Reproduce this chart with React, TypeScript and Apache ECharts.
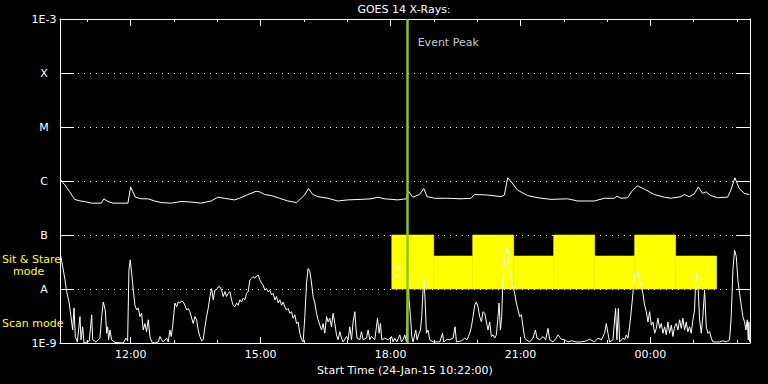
import React, { useEffect, useRef } from 'react';
import * as echarts from 'echarts';

// Time axis: minutes elapsed since the start time 24-Jan-15 10:22:00
const START_CLOCK_MIN = 10 * 60 + 22;
const X_MAX = 956;
const majorTickMinutes = [98, 278, 458, 638, 818]; // 12:00 15:00 18:00 21:00 00:00
const hourTickMinutes = [38, 98, 158, 218, 278, 338, 398, 458, 518, 578, 638, 698, 758, 818, 878, 938];

// Y axis: log10 flux (W/m^2) decades and their GOES class labels
const yTickExponents = [-9, -8, -7, -6, -5, -4, -3];
const yTickLabels = ['1E-9', 'A', 'B', 'C', 'M', 'X', '1E-3'];

// Long channel (1-8 A), [minute, log10 flux]
const longChannel: [number, number][] = [
  [1.0, -5.98], [6.5, -6.07], [13.4, -6.2], [20.3, -6.34], [27.7, -6.37], [34.2, -6.38], [43.4, -6.41], [57.2, -6.41],
  [60.9, -6.33], [66.5, -6.38], [73.4, -6.41], [94.1, -6.41], [97.9, -6.11], [101.0, -6.2], [104.3, -6.3], [112.6, -6.33],
  [121.8, -6.33], [131.1, -6.37], [140.2, -6.4], [154.1, -6.41], [167.9, -6.38], [181.8, -6.39], [195.7, -6.41], [209.5, -6.37],
  [218.8, -6.3], [228.1, -6.32], [241.9, -6.35], [248.8, -6.32], [260.3, -6.25], [271.8, -6.19], [276.5, -6.2], [283.4, -6.25],
  [292.5, -6.27], [304.2, -6.32], [315.7, -6.37], [327.8, -6.4], [338.8, -6.26], [344.3, -6.14], [350.3, -6.25], [357.2, -6.29],
  [371.1, -6.32], [384.9, -6.37], [398.7, -6.35], [417.2, -6.34], [431.0, -6.33], [440.3, -6.3], [449.6, -6.33], [468.0, -6.35],
  [479.5, -6.33], [482.8, -6.19], [488.8, -6.3], [498.0, -6.25], [504.0, -6.14], [508.6, -6.29], [518.9, -6.32], [537.2, -6.32],
  [555.6, -6.33], [569.5, -6.32], [574.2, -6.25], [592.6, -6.26], [611.1, -6.29], [615.7, -6.26], [620.3, -5.94], [624.9, -6.01],
  [634.1, -6.17], [648.0, -6.27], [661.8, -6.31], [680.2, -6.34], [703.4, -6.33], [717.3, -6.37], [740.3, -6.37], [754.2, -6.32],
  [768.0, -6.32], [771.7, -6.28], [777.2, -6.32], [786.4, -6.31], [793.4, -6.17], [800.3, -6.09], [809.6, -6.15], [823.4, -6.25],
  [837.3, -6.3], [846.4, -6.32], [860.2, -6.29], [864.9, -6.25], [871.8, -6.29], [878.8, -6.24], [884.3, -6.11], [890.3, -6.23],
  [894.9, -6.2], [901.8, -6.27], [911.1, -6.31], [924.9, -6.3], [929.5, -6.17], [935.1, -5.94], [941.1, -6.14], [948.0, -6.23],
  [954.9, -6.25]
];

// Short channel (0.5-4 A), [minute, log10 flux]
const shortChannel: [number, number][] = [
  [1.0, -7.39], [4.6, -7.65], [6.9, -7.83], [9.3, -8.05], [12.5, -8.24], [15.2, -8.51], [17.6, -8.76], [19.4, -8.35], [21.2, -8.88],
  [24.0, -8.98], [27.7, -8.51], [29.1, -8.94], [31.4, -8.7], [33.2, -9], [40.6, -8.96], [43.9, -8.48], [45.3, -8.94], [49.8, -8.98],
  [55.4, -8.91], [57.7, -8.51], [60.0, -8.24], [62.7, -8.39], [64.7, -8.82], [66.0, -8.7], [67.4, -8.94], [69.2, -8.76], [71.6, -8.94],
  [76.2, -8.99], [87.6, -9], [91.4, -8.91], [93.7, -8.96], [95.5, -7.65], [97.3, -7.46], [99.3, -7.71], [101.5, -8.02], [103.8, -8.3],
  [106.2, -8.39], [108.4, -8.35], [110.8, -8.51], [113.1, -8.45], [115.3, -8.76], [117.7, -8.64], [120.0, -8.79], [122.3, -8.57],
  [124.6, -8.88], [127.0, -8.98], [131.5, -9], [136.1, -8.98], [138.5, -8.88], [140.8, -8.94], [143.0, -8.98], [147.7, -8.91],
  [150.0, -8.98], [152.3, -8.76], [154.1, -8.88], [156.0, -8.7], [157.8, -8.45], [159.2, -8.26], [161.6, -8.33], [163.8, -8.24],
  [166.2, -8.26], [168.5, -8.22], [170.7, -8.24], [173.1, -8.3], [175.4, -8.39], [177.6, -8.36], [180.0, -8.42], [182.4, -8.54],
  [184.6, -8.64], [186.9, -8.51], [189.3, -8.57], [191.5, -8.76], [193.8, -8.88], [196.2, -8.96], [198.4, -8.94], [200.8, -8.7],
  [203.1, -8.51], [205.3, -8.36], [207.7, -8.14], [210.0, -7.99], [212.3, -8.2], [214.6, -8.02], [217.0, -8.01], [219.2, -7.96],
  [221.5, -7.96], [223.9, -8.02], [226.1, -8.14], [228.5, -8.05], [230.8, -8.14], [233.0, -8.08], [235.4, -8.05], [237.7, -8.2],
  [239.9, -8.3], [242.3, -8.33], [244.7, -8.26], [246.9, -8.3], [249.2, -8.2], [251.6, -8.24], [253.8, -8.17], [256.2, -8.2],
  [258.5, -8.08], [260.7, -8.05], [263.1, -7.83], [265.4, -7.8], [267.6, -7.77], [270.0, -7.8], [272.4, -7.76], [274.6, -7.74],
  [276.9, -7.83], [279.3, -7.89], [281.5, -7.93], [283.8, -8.02], [286.2, -7.99], [288.4, -8.05], [290.8, -8.02], [293.1, -8.11],
  [295.3, -8.08], [297.7, -8.2], [300.0, -8.14], [302.3, -8.26], [304.6, -8.2], [307.0, -8.3], [309.2, -8.24], [311.5, -8.33],
  [313.9, -8.39], [316.1, -8.36], [318.5, -8.45], [320.8, -8.42], [323.0, -8.54], [325.4, -8.48], [327.7, -8.64], [329.9, -8.61],
  [332.3, -8.82], [334.7, -8.94], [336.9, -8.98], [339.2, -8.51], [341.6, -7.89], [343.8, -7.62], [346.2, -7.68], [348.5, -7.89],
  [350.7, -8.14], [353.1, -8.26], [355.4, -8.45], [357.6, -8.57], [360.0, -8.67], [362.4, -8.76], [364.6, -8.64], [366.9, -8.82],
  [369.3, -8.51], [371.5, -8.61], [373.8, -8.54], [376.2, -8.7], [378.4, -8.45], [380.8, -8.64], [383.1, -8.85], [385.3, -8.94],
  [387.7, -8.79], [390.0, -8.91], [392.3, -8.98], [397.0, -8.88], [399.2, -8.94], [401.5, -8.7], [403.9, -8.94], [406.1, -8.61],
  [408.5, -8.42], [410.3, -8.76], [411.6, -8.91], [415.4, -8.94], [417.7, -8.79], [420.0, -8.94], [424.7, -8.91], [426.9, -8.76],
  [429.2, -8.94], [431.6, -8.88], [436.1, -8.94], [438.5, -8.7], [439.9, -8.54], [442.1, -8.82], [444.0, -8.64], [445.8, -8.94],
  [450.0, -8.91], [454.6, -8.94], [459.3, -8.88], [461.5, -8.98], [463.8, -8.91], [466.6, -8.98], [470.8, -8.85], [473.1, -8.98],
  [475.3, -8.94], [477.7, -8.85], [480.0, -8.98], [482.3, -7.77], [483.6, -8.2], [485.6, -8.51], [487.4, -8.88], [489.2, -8.98],
  [492.9, -8.76], [494.7, -8.94], [497.5, -8.82], [499.4, -8.76], [501.2, -8.51], [503.0, -8.02], [504.4, -7.83], [505.8, -8.2],
  [507.7, -8.82], [509.9, -8.76], [512.3, -8.94], [516.9, -8.98], [521.6, -8.98], [526.2, -8.98], [529.9, -8.82], [531.7, -8.98],
  [536.3, -8.93], [540.0, -8.94], [544.6, -8.91], [547.3, -8.7], [549.3, -8.98], [556.2, -8.96], [560.8, -8.91], [563.9, -8.94],
  [567.7, -8.82], [570.0, -8.7], [572.3, -8.51], [574.6, -8.3], [576.9, -8.24], [579.2, -8.33], [581.5, -8.51], [583.9, -8.61],
  [586.1, -8.42], [588.5, -8.45], [590.8, -8.61], [593.0, -8.76], [595.4, -8.61], [597.7, -8.88], [600.0, -8.85], [602.3, -8.91],
  [604.6, -8.85], [606.9, -8.51], [608.3, -8.26], [610.2, -8.76], [612.0, -8.51], [613.8, -7.77], [616.1, -7.46], [618.9, -7.24],
  [620.7, -7.28], [623.1, -7.65], [625.4, -7.83], [627.6, -7.96], [630.0, -8.08], [632.3, -8.26], [634.6, -8.39], [636.9, -8.51],
  [639.3, -8.48], [641.5, -8.7], [643.8, -8.91], [646.2, -8.94], [650.8, -8.98], [655.3, -8.91], [658.7, -8.76], [660.9, -8.91],
  [664.6, -8.94], [669.2, -8.88], [672.9, -8.94], [676.1, -8.73], [678.5, -8.94], [683.0, -8.98], [687.7, -8.91], [689.9, -8.85],
  [692.3, -8.89], [694.6, -8.93], [699.2, -8.94], [703.8, -8.98], [708.5, -8.96], [715.4, -8.98], [722.3, -8.98], [729.3, -8.96],
  [733.8, -8.93], [740.8, -8.98], [745.3, -8.91], [750.0, -8.94], [754.6, -8.82], [756.9, -8.64], [759.2, -8.82], [761.5, -8.98],
  [766.1, -8.94], [769.8, -8.36], [771.6, -8.94], [773.6, -8.36], [775.4, -8.98], [780.0, -8.91], [782.3, -8.94], [784.7, -8.85],
  [786.9, -8.91], [789.2, -8.7], [791.6, -8.39], [793.8, -8.08], [796.2, -7.71], [798.5, -7.68], [800.7, -7.68], [803.1, -7.83],
  [805.4, -7.96], [807.6, -8.08], [810.0, -8.3], [812.4, -8.42], [814.6, -8.61], [816.9, -8.42], [819.3, -8.67], [821.5, -8.61],
  [823.9, -8.82], [826.2, -8.73], [828.4, -8.54], [830.8, -8.73], [833.1, -8.64], [835.4, -8.82], [837.7, -8.7], [840.0, -8.85],
  [842.3, -8.61], [844.6, -8.82], [847.0, -8.67], [849.2, -8.88], [851.5, -8.7], [853.9, -8.64], [856.1, -8.76], [858.5, -8.57],
  [860.8, -8.73], [863.0, -8.54], [865.4, -8.76], [867.7, -8.61], [869.9, -8.79], [872.3, -8.7], [874.6, -8.82], [876.9, -8.57],
  [879.2, -8.39], [880.6, -7.89], [882.4, -7.71], [884.3, -8.02], [886.1, -8.57], [888.5, -8.82], [890.7, -8.51], [893.1, -8.02],
  [895.4, -8.7], [897.6, -8.82], [900.0, -8.79], [902.4, -8.91], [904.6, -8.98], [909.3, -8.98], [913.8, -8.98], [918.4, -8.96],
  [923.1, -8.98], [927.7, -8.94], [930.0, -8.51], [932.3, -7.65], [934.6, -7.28], [937.0, -7.4], [939.2, -7.83], [941.5, -8.08],
  [943.9, -8.3], [946.1, -8.51], [948.5, -8.61], [950.3, -8.76], [952.2, -8.57], [953.6, -8.94], [954.4, -8.61], [955.4, -8.98]
];

// Instrument mode blocks (Sit & Stare), minutes and log10 flux extents
const modeStart = [459.7, 517.8, 571.8, 628.6, 684.0, 740.8, 796.2, 852.9];
const modeEnd = [517.8, 571.8, 628.6, 684.0, 740.8, 796.2, 852.9, 909.7];
const modeTopLog = [-7, -7.39, -7, -7.39, -7, -7.39, -7, -7.39];
const modeBottomLog = -8;

const markerPoint: [number, number] = [466.6, -7.68];
const eventPeakMinute = 481;
const eventPeakLabelLog = -3.44;

export default function App() {
  const ref = useRef<HTMLDivElement>(null);
  useEffect(() => {
    document.body.style.margin = '0';
    document.body.style.background = '#000';
    const chart = echarts.init(ref.current!, null, { renderer: 'svg' });
    const toFlux = (l: number) => Math.pow(10, l);
    const clock = (m: number) => {
      const t = Math.round(START_CLOCK_MIN + m);
      const h = Math.floor(t / 60) % 24;
      const mm = t % 60;
      return String(h).padStart(2, '0') + ':' + String(mm).padStart(2, '0');
    };
    const white = '#ffffff';
    const font = 'DejaVu Sans';
    const lineOn = { show: true, onZero: false, lineStyle: { color: white, width: 1 } };
    const lineOff = { show: false, onZero: false };
    const xCommon = { type: 'value', min: 0, max: X_MAX, splitLine: { show: false } };
    const yCommon = { type: 'log', logBase: 10, min: toFlux(-9), max: toFlux(-3), splitNumber: 6 };
    const modeData = modeStart.map((s, i) => [s, modeEnd[i], toFlux(modeTopLog[i]), toFlux(modeBottomLog)]);

    const option: any = {
      animation: false,
      backgroundColor: '#000000',
      textStyle: { fontFamily: font },
      grid: { left: 60, right: 18, top: 19, bottom: 41 },
      graphic: [
        { type: 'text', x: 404, y: 9, style: { text: 'GOES 14 X-Rays:', fill: white, font: '11px DejaVu Sans', align: 'center', verticalAlign: 'middle' } },
        { type: 'text', x: 2, y: 259, style: { text: 'Sit & Stare', fill: '#ffff00', font: '11px DejaVu Sans', align: 'left', verticalAlign: 'middle' } },
        { type: 'text', x: 13, y: 271, style: { text: 'mode', fill: '#ffff00', font: '11px DejaVu Sans', align: 'left', verticalAlign: 'middle' } },
        { type: 'text', x: 2, y: 323, style: { text: 'Scan mode', fill: '#ffff00', font: '11px DejaVu Sans', align: 'left', verticalAlign: 'middle' } }
      ],
      xAxis: [
        {
          ...xCommon, position: 'bottom', axisLine: lineOn,
          axisTick: { show: true, inside: true, length: 6, customValues: majorTickMinutes, lineStyle: { color: white } },
          axisLabel: { show: true, customValues: majorTickMinutes, formatter: (v: number) => clock(v), color: white, fontSize: 11, margin: 6 },
          name: 'Start Time (24-Jan-15 10:22:00)', nameLocation: 'middle', nameGap: 18,
          nameTextStyle: { color: white, fontSize: 11 }
        },
        {
          ...xCommon, position: 'bottom', axisLine: lineOff,
          axisTick: { show: true, inside: true, length: 3, customValues: hourTickMinutes, lineStyle: { color: white } },
          axisLabel: { show: false }
        },
        {
          ...xCommon, position: 'top', axisLine: lineOn,
          axisTick: { show: true, inside: true, length: 7, customValues: majorTickMinutes, lineStyle: { color: white } },
          axisLabel: { show: false }
        },
        {
          ...xCommon, position: 'top', axisLine: lineOff,
          axisTick: { show: true, inside: true, length: 3, customValues: hourTickMinutes, lineStyle: { color: white } },
          axisLabel: { show: false }
        }
      ],
      yAxis: [
        {
          ...yCommon, position: 'left', axisLine: lineOn,
          axisTick: { show: true, inside: true, length: 14, lineStyle: { color: white } },
          axisLabel: {
            color: white, fontSize: 11, align: 'center', margin: 16,
            formatter: (v: number) => {
              const e = Math.round(Math.log10(v));
              const i = yTickExponents.indexOf(e);
              return i >= 0 ? yTickLabels[i] : '';
            }
          },
          splitLine: { show: true, lineStyle: { color: white, width: 1, type: [1, 5] } }
        },
        {
          ...yCommon, position: 'right', axisLine: lineOn,
          axisTick: { show: true, inside: true, length: 14, lineStyle: { color: white } },
          axisLabel: { show: false },
          splitLine: { show: false }
        }
      ],
      series: [
        {
          type: 'custom', name: 'Mode', xAxisIndex: 0, yAxisIndex: 0, z: 1, silent: true,
          encode: { x: [0, 1], y: [2, 3] },
          data: modeData,
          renderItem: (params: any, api: any) => {
            const p0 = api.coord([api.value(0), api.value(2)]);
            const p1 = api.coord([api.value(1), api.value(3)]);
            return {
              type: 'rect',
              shape: { x: p0[0], y: p0[1], width: p1[0] - p0[0], height: p1[1] - p0[1] },
              style: { fill: '#ffff00', stroke: '#ffff00', lineWidth: 0.6 }
            };
          }
        },
        {
          type: 'line', name: '1-8 A', xAxisIndex: 0, yAxisIndex: 0, z: 3,
          showSymbol: false, symbol: 'none', clip: true,
          lineStyle: { color: white, width: 1 },
          data: longChannel.map(([t, l]) => [t, toFlux(l)])
        },
        {
          type: 'line', name: '0.5-4 A', xAxisIndex: 0, yAxisIndex: 0, z: 3,
          showSymbol: false, symbol: 'none', clip: true,
          lineStyle: { color: white, width: 1 },
          data: shortChannel.map(([t, l]) => [t, toFlux(l)])
        },
        {
          type: 'scatter', name: 'Marker', xAxisIndex: 0, yAxisIndex: 0, z: 4, silent: true,
          symbol: 'circle', symbolSize: [7, 10],
          itemStyle: { color: 'rgba(0,0,0,0)', borderColor: white, borderWidth: 1 },
          data: [[markerPoint[0], toFlux(markerPoint[1])]]
        },
        {
          type: 'scatter', name: 'Event Peak', xAxisIndex: 0, yAxisIndex: 0, z: 6, silent: true,
          symbol: 'circle', symbolSize: 1,
          itemStyle: { color: 'rgba(0,0,0,0)' },
          label: { show: true, position: 'right', distance: 10, formatter: 'Event Peak', color: white, fontSize: 11 },
          data: [[eventPeakMinute, toFlux(eventPeakLabelLog)]],
          markLine: {
            silent: true, symbol: ['none', 'none'], animation: false,
            label: { show: false },
            lineStyle: { color: '#8cc800', width: 2.5, type: 'solid' },
            data: [{ xAxis: eventPeakMinute }]
          }
        }
      ]
    };
    chart.setOption(option);
    return () => chart.dispose();
  }, []);
  return <div ref={ref} style={{ position: 'fixed', left: 0, top: 0, width: 768, height: 384 }} />;
}
